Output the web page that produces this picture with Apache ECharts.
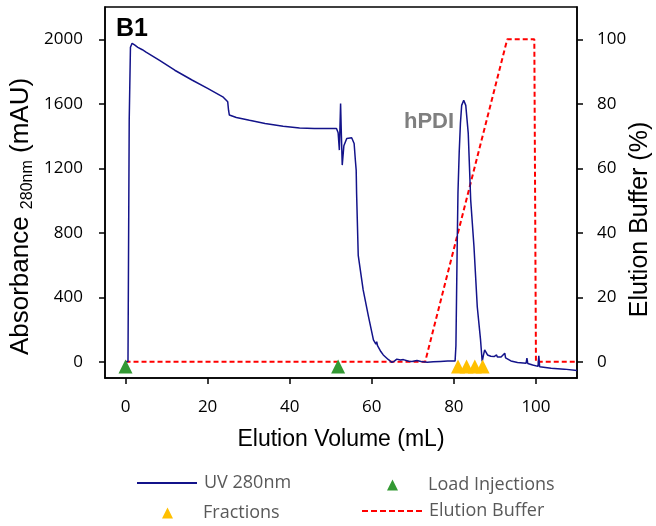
<!DOCTYPE html>
<html>
<head>
<meta charset="utf-8">
<script src="https://cdn.jsdelivr.net/npm/echarts@6/dist/echarts.min.js"></script>
<style>
html,body{margin:0;padding:0;background:#fff;}
#chart{width:656px;height:526px;}
</style>
</head>
<body>
<div id="chart"></div>
<script>
// UV 280nm trace: [elution volume mL, absorbance mAU]
const uvTrace = [
  [0,0],[0.6,2],[0.9,1500],[1.2,1950],[1.6,1975],[2.2,1965],[3,1950],[4.1,1935],[5,1920],
  [8.2,1870],[12,1808],[16.3,1746],[20,1695],[23.7,1643],[24.9,1612],[25.1,1560],[25.3,1530],
  [27,1515],[30.2,1498],[34,1478],[38.4,1461],[42.4,1450],[46,1447],[51.4,1447],[51.8,1420],
  [52.1,1313],[52.4,1602],[52.6,1400],[52.8,1220],[53.2,1340],[53.9,1385],[55.1,1389],[55.7,1354],
  [56.0,1250],[56.2,1189],[56.3,1046],[56.7,660],[57.9,446],[59.2,281],[60.4,136],[61.0,110],
  [61.2,125],[61.4,100],[62.2,64],[62.8,43],[64,15],[64.9,-3],[65.5,5],[66.1,17],[67,12],
  [67.7,14],[69,4],[69.8,2],[71,8],[72,2],[73.5,-3],[75,0],[76.7,3],[78.5,5],[80.3,6],
  [80.5,100],[80.8,700],[81.0,1050],[81.3,1300],[81.6,1480],[81.9,1590],[82.4,1622],[82.9,1590],
  [83.5,1418],[84.1,1003],[84.9,714],[85.7,342],[86.5,136],[86.9,2],[87.2,40],[87.5,74],
  [88.2,43],[89.0,35],[89.8,33],[90.4,43],[90.6,30],[91.5,30],[92.4,54],[92.6,25],[93.9,6],
  [95.5,-4],[97.6,-8],[97.8,23],[98,-10],[99.2,-19],[100.5,-28],[100.7,37],[100.9,-30],
  [101.2,-35],[103.7,-39],[103.9,-29],[104.1,-40],[106.9,-45],[110,-54]
];
// Elution buffer gradient: [mL, %]
const bufferTrace = [[0,0],[73,0],[93,100],[99.6,100],[100,0],[110,0]];
// Load injection markers: [mL, mAU]
const loadInjections = [[0,-28],[51.8,-28]];
// Fraction markers: [mL, mAU]
const fractions = [[81,-28],[83.1,-28],[85.1,-28],[87,-28]];
// Tick labels
const xTicks = [0,20,40,60,80,100];
const yLeftTicks = [0,400,800,1200,1600,2000];
const yRightTicks = [0,20,40,60,80,100];

const chart = echarts.init(document.getElementById('chart'), null, {renderer:'canvas'});
const plain = v => String(v);
const tickFont = {fontFamily:'Open Sans', fontSize:17, color:'#000', formatter:plain};
const axisLineStyle = {show:true, onZero:false, lineStyle:{color:'#000', width:1.5}};
const tickStyle = {show:true, inside:false, length:6, lineStyle:{color:'#000', width:1.5}};

const legendText = {fontFamily:'Open Sans', fontSize:18, color:'#595959'};
const lineLegend = {orient:'horizontal', itemWidth:60, itemHeight:2, itemGap:0, padding:0,
  textStyle:Object.assign({padding:[0,0,0,2]}, legendText)};
const symLegend = {orient:'horizontal', itemWidth:11, itemHeight:11, itemGap:0, padding:0,
  textStyle:Object.assign({padding:[0,0,0,25]}, legendText)};
const solidIcon = 'path://M0,0H60V2H0Z';
const dashedIcon = 'path://M0,0h6v2h-6z M9,0h6v2h-6z M18,0h6v2h-6z M27,0h6v2h-6z M36,0h6v2h-6z M45,0h6v2h-6z M54,0h6v2h-6z';

chart.setOption({
  animation:false,
  backgroundColor:'#fff',
  grid:{left:105, right:79, top:7, bottom:148, outerBoundsMode:'none', containLabel:false,
    show:true, borderColor:'#000', borderWidth:1.5, backgroundColor:'transparent'},
  xAxis:{
    type:'value', min:-5, max:110,
    name:'Elution Volume (mL)', nameLocation:'middle', nameGap:50, nameMoveOverlap:false,
    nameTextStyle:{fontFamily:'Liberation Sans', fontSize:23, color:'#000'},
    axisLine:axisLineStyle,
    axisTick:Object.assign({customValues:xTicks}, tickStyle),
    axisLabel:Object.assign({customValues:xTicks, margin:21}, tickFont),
    splitLine:{show:false}
  },
  yAxis:[{
    type:'value', min:-100, max:2200, position:'left',
    name:'Absorbance {sub|280nm} (mAU)', nameLocation:'middle', nameGap:69, nameMoveOverlap:false,
    nameTextStyle:{fontFamily:'Liberation Sans', fontSize:26, color:'#000', lineHeight:30, padding:[0,48,0,0],
      rich:{sub:{fontFamily:'Liberation Sans', fontSize:16, color:'#000', verticalAlign:'bottom', lineHeight:30}}},
    axisLine:axisLineStyle,
    axisTick:Object.assign({customValues:yLeftTicks}, tickStyle),
    axisLabel:Object.assign({customValues:yLeftTicks, margin:22}, tickFont),
    splitLine:{show:false}
  },{
    type:'value', min:-5, max:110, position:'right',
    name:'Elution Buffer (%)', nameLocation:'middle', nameGap:51, nameRotate:90, nameMoveOverlap:false,
    nameTextStyle:{fontFamily:'Liberation Sans', fontSize:25, color:'#000', padding:[0,54,0,0]},
    axisLine:axisLineStyle,
    axisTick:Object.assign({customValues:yRightTicks}, tickStyle),
    axisLabel:Object.assign({customValues:yRightTicks, margin:20}, tickFont),
    splitLine:{show:false}
  }],
  legend:[
    Object.assign({data:[{name:'UV 280nm', icon:solidIcon}], left:137, top:474}, lineLegend),
    Object.assign({data:[{name:'Load Injections', icon:'triangle'}], left:387, top:476}, symLegend),
    Object.assign({data:[{name:'Fractions', icon:'triangle'}], left:162, top:504}, symLegend),
    Object.assign({data:[{name:'Elution Buffer', icon:dashedIcon}], left:362, top:502}, lineLegend)
  ],
  graphic:[
    {type:'text', left:116, top:17, style:{text:'B1', fontFamily:'Liberation Sans', fontWeight:'bold', fontSize:25, fill:'#000'}},
    {type:'text', left:404, top:111, style:{text:'hPDI', fontFamily:'Liberation Sans', fontWeight:'bold', fontSize:22, fill:'#7f7f7f'}}
  ],
  series:[
    {name:'Elution Buffer', type:'line', yAxisIndex:1, data:bufferTrace, symbol:'none', z:3,
      lineStyle:{color:'#ff0000', width:2, type:[5,3]}, itemStyle:{color:'#ff0000'}},
    {name:'UV 280nm', type:'line', yAxisIndex:0, data:uvTrace, symbol:'none', z:4,
      lineStyle:{color:'#13138a', width:1.5}, itemStyle:{color:'#13138a'}},
    {name:'Load Injections', type:'scatter', yAxisIndex:0, data:loadInjections, symbol:'triangle', symbolSize:14, z:5,
      itemStyle:{color:'#339933', opacity:1}},
    {name:'Fractions', type:'scatter', yAxisIndex:0, data:fractions, symbol:'triangle', symbolSize:14, z:5,
      itemStyle:{color:'#ffc000', opacity:1}}
  ]
});
</script>
</body>
</html>
